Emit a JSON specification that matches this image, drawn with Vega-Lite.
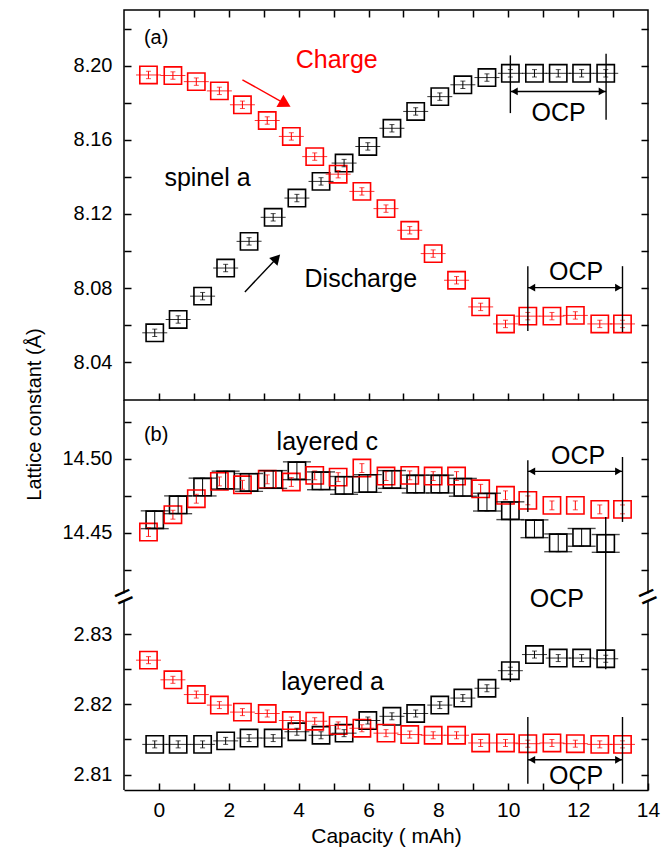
{
  "$schema": "https://vega.github.io/schema/vega-lite/v6.json",
  "autosize": {"type": "pad"},
  "padding": {"left": 23, "top": 8, "right": 5, "bottom": 5},
  "background": "white",
  "config": {
    "font": "Liberation Sans",
    "axis": {"domain": false, "grid": false, "tickColor": "#000", "tickWidth": 1.5, "tickSize": -7, "labelColor": "#000", "labelFont": "Liberation Sans", "labelFontSize": 20, "labelOverlap": false, "labelFlush": false, "titleColor": "#000", "titleFont": "Liberation Sans", "titleFontSize": 20, "titleFontWeight": "normal"},
    "view": {"stroke": null}
  },
  "datasets": {
    "spinel": [
      {"x": -0.12, "y": 8.0558, "err": 0.002, "series": "Discharge"},
      {"x": 0.55, "y": 8.063, "err": 0.002, "series": "Discharge"},
      {"x": 1.25, "y": 8.0756, "err": 0.002, "series": "Discharge"},
      {"x": 1.91, "y": 8.0908, "err": 0.002, "series": "Discharge"},
      {"x": 2.58, "y": 8.1052, "err": 0.002, "series": "Discharge"},
      {"x": 3.27, "y": 8.1182, "err": 0.002, "series": "Discharge"},
      {"x": 3.95, "y": 8.1286, "err": 0.002, "series": "Discharge"},
      {"x": 4.64, "y": 8.1376, "err": 0.002, "series": "Discharge"},
      {"x": 5.3, "y": 8.1475, "err": 0.002, "series": "Discharge"},
      {"x": 5.98, "y": 8.1565, "err": 0.002, "series": "Discharge"},
      {"x": 6.67, "y": 8.1663, "err": 0.002, "series": "Discharge"},
      {"x": 7.35, "y": 8.1754, "err": 0.002, "series": "Discharge"},
      {"x": 8.04, "y": 8.1834, "err": 0.002, "series": "Discharge"},
      {"x": 8.7, "y": 8.1898, "err": 0.002, "series": "Discharge"},
      {"x": 9.39, "y": 8.1937, "err": 0.002, "series": "Discharge"},
      {"x": 10.06, "y": 8.196, "err": 0.002, "series": "Discharge"},
      {"x": 10.75, "y": 8.196, "err": 0.002, "series": "Discharge"},
      {"x": 11.43, "y": 8.196, "err": 0.002, "series": "Discharge"},
      {"x": 12.1, "y": 8.196, "err": 0.002, "series": "Discharge"},
      {"x": 12.79, "y": 8.196, "err": 0.002, "series": "Discharge"},
      {"x": -0.3, "y": 8.1951, "err": 0.002, "series": "Charge"},
      {"x": 0.4, "y": 8.1948, "err": 0.002, "series": "Charge"},
      {"x": 1.07, "y": 8.1915, "err": 0.002, "series": "Charge"},
      {"x": 1.73, "y": 8.1865, "err": 0.002, "series": "Charge"},
      {"x": 2.39, "y": 8.179, "err": 0.002, "series": "Charge"},
      {"x": 3.1, "y": 8.1705, "err": 0.002, "series": "Charge"},
      {"x": 3.79, "y": 8.1619, "err": 0.002, "series": "Charge"},
      {"x": 4.46, "y": 8.151, "err": 0.002, "series": "Charge"},
      {"x": 5.13, "y": 8.1415, "err": 0.002, "series": "Charge"},
      {"x": 5.81, "y": 8.1322, "err": 0.002, "series": "Charge"},
      {"x": 6.5, "y": 8.1229, "err": 0.002, "series": "Charge"},
      {"x": 7.18, "y": 8.1112, "err": 0.002, "series": "Charge"},
      {"x": 7.85, "y": 8.0986, "err": 0.002, "series": "Charge"},
      {"x": 8.52, "y": 8.0842, "err": 0.002, "series": "Charge"},
      {"x": 9.21, "y": 8.0698, "err": 0.002, "series": "Charge"},
      {"x": 9.92, "y": 8.0606, "err": 0.002, "series": "Charge"},
      {"x": 10.56, "y": 8.0648, "err": 0.002, "series": "Charge"},
      {"x": 11.25, "y": 8.0648, "err": 0.002, "series": "Charge"},
      {"x": 11.92, "y": 8.0652, "err": 0.002, "series": "Charge"},
      {"x": 12.62, "y": 8.0606, "err": 0.002, "series": "Charge"},
      {"x": 13.27, "y": 8.0606, "err": 0.002, "series": "Charge"}
    ],
    "layered": [
      {"x": -0.12, "y": 14.4588, "err": 0.006, "lat": "c", "series": "Discharge"},
      {"x": 0.55, "y": 14.4689, "err": 0.006, "lat": "c", "series": "Discharge"},
      {"x": 1.25, "y": 14.4809, "err": 0.006, "lat": "c", "series": "Discharge"},
      {"x": 1.91, "y": 14.4856, "err": 0.006, "lat": "c", "series": "Discharge"},
      {"x": 2.58, "y": 14.484, "err": 0.006, "lat": "c", "series": "Discharge"},
      {"x": 3.27, "y": 14.486, "err": 0.006, "lat": "c", "series": "Discharge"},
      {"x": 3.95, "y": 14.4919, "err": 0.006, "lat": "c", "series": "Discharge"},
      {"x": 4.64, "y": 14.4851, "err": 0.006, "lat": "c", "series": "Discharge"},
      {"x": 5.3, "y": 14.482, "err": 0.006, "lat": "c", "series": "Discharge"},
      {"x": 5.98, "y": 14.4833, "err": 0.006, "lat": "c", "series": "Discharge"},
      {"x": 6.67, "y": 14.486, "err": 0.006, "lat": "c", "series": "Discharge"},
      {"x": 7.35, "y": 14.4829, "err": 0.006, "lat": "c", "series": "Discharge"},
      {"x": 8.04, "y": 14.4829, "err": 0.006, "lat": "c", "series": "Discharge"},
      {"x": 8.7, "y": 14.4807, "err": 0.006, "lat": "c", "series": "Discharge"},
      {"x": 9.39, "y": 14.4707, "err": 0.006, "lat": "c", "series": "Discharge"},
      {"x": 10.06, "y": 14.4649, "err": 0.006, "lat": "c", "series": "Discharge"},
      {"x": 10.75, "y": 14.4527, "err": 0.006, "lat": "c", "series": "Discharge"},
      {"x": 11.43, "y": 14.4432, "err": 0.006, "lat": "c", "series": "Discharge"},
      {"x": 12.1, "y": 14.4469, "err": 0.006, "lat": "c", "series": "Discharge"},
      {"x": 12.79, "y": 14.4428, "err": 0.006, "lat": "c", "series": "Discharge"},
      {"x": -0.12, "y": 2.8143, "err": 0.0005, "lat": "a", "series": "Discharge"},
      {"x": 0.55, "y": 2.8143, "err": 0.0005, "lat": "a", "series": "Discharge"},
      {"x": 1.25, "y": 2.8143, "err": 0.0005, "lat": "a", "series": "Discharge"},
      {"x": 1.91, "y": 2.8148, "err": 0.0005, "lat": "a", "series": "Discharge"},
      {"x": 2.58, "y": 2.8152, "err": 0.0005, "lat": "a", "series": "Discharge"},
      {"x": 3.27, "y": 2.8152, "err": 0.0005, "lat": "a", "series": "Discharge"},
      {"x": 3.95, "y": 2.8161, "err": 0.0005, "lat": "a", "series": "Discharge"},
      {"x": 4.64, "y": 2.8156, "err": 0.0005, "lat": "a", "series": "Discharge"},
      {"x": 5.3, "y": 2.8159, "err": 0.0005, "lat": "a", "series": "Discharge"},
      {"x": 5.98, "y": 2.8177, "err": 0.0005, "lat": "a", "series": "Discharge"},
      {"x": 6.67, "y": 2.8183, "err": 0.0005, "lat": "a", "series": "Discharge"},
      {"x": 7.35, "y": 2.8187, "err": 0.0005, "lat": "a", "series": "Discharge"},
      {"x": 8.04, "y": 2.8199, "err": 0.0005, "lat": "a", "series": "Discharge"},
      {"x": 8.7, "y": 2.8209, "err": 0.0005, "lat": "a", "series": "Discharge"},
      {"x": 9.39, "y": 2.8223, "err": 0.0005, "lat": "a", "series": "Discharge"},
      {"x": 10.06, "y": 2.8248, "err": 0.0005, "lat": "a", "series": "Discharge"},
      {"x": 10.75, "y": 2.8271, "err": 0.0005, "lat": "a", "series": "Discharge"},
      {"x": 11.43, "y": 2.8266, "err": 0.0005, "lat": "a", "series": "Discharge"},
      {"x": 12.1, "y": 2.8266, "err": 0.0005, "lat": "a", "series": "Discharge"},
      {"x": 12.79, "y": 2.8265, "err": 0.0005, "lat": "a", "series": "Discharge"},
      {"x": -0.3, "y": 14.4505, "err": 0.003, "lat": "c", "series": "Charge"},
      {"x": 0.4, "y": 14.4622, "err": 0.003, "lat": "c", "series": "Charge"},
      {"x": 1.07, "y": 14.473, "err": 0.003, "lat": "c", "series": "Charge"},
      {"x": 1.73, "y": 14.4847, "err": 0.003, "lat": "c", "series": "Charge"},
      {"x": 2.39, "y": 14.4824, "err": 0.003, "lat": "c", "series": "Charge"},
      {"x": 3.1, "y": 14.4861, "err": 0.003, "lat": "c", "series": "Charge"},
      {"x": 3.79, "y": 14.4843, "err": 0.003, "lat": "c", "series": "Charge"},
      {"x": 4.46, "y": 14.4888, "err": 0.003, "lat": "c", "series": "Charge"},
      {"x": 5.13, "y": 14.4876, "err": 0.003, "lat": "c", "series": "Charge"},
      {"x": 5.81, "y": 14.4937, "err": 0.003, "lat": "c", "series": "Charge"},
      {"x": 6.5, "y": 14.4883, "err": 0.003, "lat": "c", "series": "Charge"},
      {"x": 7.18, "y": 14.4888, "err": 0.003, "lat": "c", "series": "Charge"},
      {"x": 7.85, "y": 14.4883, "err": 0.003, "lat": "c", "series": "Charge"},
      {"x": 8.52, "y": 14.4883, "err": 0.003, "lat": "c", "series": "Charge"},
      {"x": 9.21, "y": 14.4797, "err": 0.003, "lat": "c", "series": "Charge"},
      {"x": 9.92, "y": 14.4753, "err": 0.003, "lat": "c", "series": "Charge"},
      {"x": 10.56, "y": 14.4719, "err": 0.003, "lat": "c", "series": "Charge"},
      {"x": 11.25, "y": 14.4685, "err": 0.003, "lat": "c", "series": "Charge"},
      {"x": 11.92, "y": 14.4685, "err": 0.003, "lat": "c", "series": "Charge"},
      {"x": 12.62, "y": 14.4658, "err": 0.003, "lat": "c", "series": "Charge"},
      {"x": 13.27, "y": 14.4658, "err": 0.003, "lat": "c", "series": "Charge"},
      {"x": -0.3, "y": 2.8263, "err": 0.0005, "lat": "a", "series": "Charge"},
      {"x": 0.4, "y": 2.8235, "err": 0.0005, "lat": "a", "series": "Charge"},
      {"x": 1.07, "y": 2.8214, "err": 0.0005, "lat": "a", "series": "Charge"},
      {"x": 1.73, "y": 2.8199, "err": 0.0005, "lat": "a", "series": "Charge"},
      {"x": 2.39, "y": 2.8189, "err": 0.0005, "lat": "a", "series": "Charge"},
      {"x": 3.1, "y": 2.8187, "err": 0.0005, "lat": "a", "series": "Charge"},
      {"x": 3.79, "y": 2.8177, "err": 0.0005, "lat": "a", "series": "Charge"},
      {"x": 4.46, "y": 2.8176, "err": 0.0005, "lat": "a", "series": "Charge"},
      {"x": 5.13, "y": 2.817, "err": 0.0005, "lat": "a", "series": "Charge"},
      {"x": 5.81, "y": 2.8166, "err": 0.0005, "lat": "a", "series": "Charge"},
      {"x": 6.5, "y": 2.8159, "err": 0.0005, "lat": "a", "series": "Charge"},
      {"x": 7.18, "y": 2.8157, "err": 0.0005, "lat": "a", "series": "Charge"},
      {"x": 7.85, "y": 2.8156, "err": 0.0005, "lat": "a", "series": "Charge"},
      {"x": 8.52, "y": 2.8156, "err": 0.0005, "lat": "a", "series": "Charge"},
      {"x": 9.21, "y": 2.8145, "err": 0.0005, "lat": "a", "series": "Charge"},
      {"x": 9.92, "y": 2.8145, "err": 0.0005, "lat": "a", "series": "Charge"},
      {"x": 10.56, "y": 2.8144, "err": 0.0005, "lat": "a", "series": "Charge"},
      {"x": 11.25, "y": 2.8145, "err": 0.0005, "lat": "a", "series": "Charge"},
      {"x": 11.92, "y": 2.8144, "err": 0.0005, "lat": "a", "series": "Charge"},
      {"x": 12.62, "y": 2.8143, "err": 0.0005, "lat": "a", "series": "Charge"},
      {"x": 13.27, "y": 2.8143, "err": 0.0005, "lat": "a", "series": "Charge"}
    ],
    "textA": [
      {"x": 5.09, "y": 8.2032, "label": "Charge", "series": "Charge"},
      {"x": 1.39, "y": 8.1394, "label": "spinel a", "series": "note"},
      {"x": 5.78, "y": 8.0847, "label": "Discharge", "series": "note"},
      {"x": 11.44, "y": 8.1748, "label": "OCP", "series": "note"},
      {"x": 11.94, "y": 8.0888, "label": "OCP", "series": "note"}
    ],
    "labelA": [{"x": -0.08, "y": 8.2149, "label": "(a)", "series": "note"}],
    "segA": [
      {"x": 2.39, "y": 8.1925, "x2": 3.616, "y2": 8.1795, "series": "Charge"},
      {"x": 2.46, "y": 8.0779, "x2": 3.372, "y2": 8.0961, "series": "note"},
      {"x": 10.06, "y": 8.2057, "x2": 10.06, "y2": 8.1745, "series": "note"},
      {"x": 12.8, "y": 8.2066, "x2": 12.8, "y2": 8.1709, "series": "note"},
      {"x": 10.06, "y": 8.1862, "x2": 12.8, "y2": 8.1862, "series": "note"},
      {"x": 10.56, "y": 8.0918, "x2": 10.56, "y2": 8.0568, "series": "note"},
      {"x": 13.27, "y": 8.0918, "x2": 13.27, "y2": 8.0562, "series": "note"},
      {"x": 10.56, "y": 8.0802, "x2": 13.27, "y2": 8.0802, "series": "note"}
    ],
    "headsA": [
      {"x": 3.616, "y": 8.1795, "kind": "red", "series": "Charge"},
      {"x": 3.372, "y": 8.0961, "kind": "black", "series": "note"},
      {"x": 10.175, "y": 8.1862, "kind": "left", "series": "note"},
      {"x": 12.685, "y": 8.1862, "kind": "right", "series": "note"},
      {"x": 10.675, "y": 8.0802, "kind": "left", "series": "note"},
      {"x": 13.155, "y": 8.0802, "kind": "right", "series": "note"}
    ],
    "textB": [
      {"x": 4.82, "y": 14.5115, "label": "layered c", "series": "note"},
      {"x": 12.0, "y": 14.5021, "label": "OCP", "series": "note"},
      {"x": 11.39, "y": 2.835, "label": "OCP", "series": "note"},
      {"x": 4.97, "y": 2.8232, "label": "layered a", "series": "note"},
      {"x": 11.94, "y": 2.8098, "label": "OCP", "series": "note"}
    ],
    "labelB": [{"x": -0.08, "y": 14.5158, "label": "(b)", "series": "note"}],
    "segB": [
      {"x": 10.56, "y": 14.499, "x2": 10.56, "y2": 14.464, "series": "note"},
      {"x": 13.27, "y": 14.5012, "x2": 13.27, "y2": 14.4573, "series": "note"},
      {"x": 10.56, "y": 14.4915, "x2": 13.27, "y2": 14.4915, "series": "note"},
      {"x": 10.06, "y": 14.4708, "x2": 10.06, "y2": 2.8232, "series": "note"},
      {"x": 12.79, "y": 14.4606, "x2": 12.79, "y2": 2.825, "series": "note"},
      {"x": 10.56, "y": 2.8182, "x2": 10.56, "y2": 2.8087, "series": "note"},
      {"x": 13.27, "y": 2.8182, "x2": 13.27, "y2": 2.8087, "series": "note"},
      {"x": 10.56, "y": 2.8121, "x2": 13.27, "y2": 2.8121, "series": "note"}
    ],
    "headsB": [
      {"x": 10.675, "y": 14.4915, "kind": "left", "series": "note"},
      {"x": 13.155, "y": 14.4915, "kind": "right", "series": "note"},
      {"x": 10.675, "y": 2.8121, "kind": "left", "series": "note"},
      {"x": 13.155, "y": 2.8121, "kind": "right", "series": "note"}
    ]
  },
  "spacing": 0,
  "bounds": "flush",
  "vconcat": [
    {
      "width": 524,
      "height": 390,
      "view": {"stroke": "#000", "strokeWidth": 1.5},
      "resolve": {"axis": {"x": "independent", "y": "independent"}},
      "layer": [
        {
          "data": {"name": "spinel"},
          "mark": {"type": "point", "shape": "square", "filled": false, "size": 300, "strokeWidth": 1.6, "opacity": 1},
          "encoding": {
            "x": {"field": "x", "type": "quantitative", "scale": {"domain": [-1, 14], "nice": false, "zero": false}, "axis": {"orient": "bottom", "values": [0,1,2,3,4,5,6,7,8,9,10,11,12,13], "labels": false, "title": null}},
            "y": {"field": "y", "type": "quantitative", "scale": {"domain": [8.0195, 8.2302], "nice": false, "zero": false}, "axis": {"orient": "left", "values": [8.04,8.06,8.08,8.1,8.12,8.14,8.16,8.18,8.2,8.22], "labelExpr": "round(datum.value*100) % 4 == 0 ? format(datum.value, '.2f') : ''", "labelPadding": 19, "title": "Lattice constant (Å)", "titleX": -84, "titleY": 404, "titleAngle": -90, "titleAlign": "center", "titleBaseline": "alphabetic"}},
            "color": {"field": "series", "type": "nominal", "scale": {"domain": ["Charge", "Discharge", "note"], "range": ["#ff0000", "#000000", "#000000"]}, "legend": null}
          }
        },
        {
          "data": {"name": "spinel"},
          "mark": {"type": "errorbar", "ticks": true, "thickness": 1},
          "encoding": {
            "x": {"field": "x", "type": "quantitative", "axis": null},
            "y": {"field": "y", "type": "quantitative", "axis": null},
            "yError": {"field": "err"},
            "color": {"field": "series", "type": "nominal", "legend": null}
          }
        },
        {
          "data": {"name": "spinel"},
          "mark": {"type": "tick", "orient": "horizontal", "size": 25, "thickness": 1, "opacity": 0.8},
          "encoding": {
            "x": {"field": "x", "type": "quantitative", "axis": null},
            "y": {"field": "y", "type": "quantitative", "axis": null},
            "color": {"field": "series", "type": "nominal", "legend": null}
          }
        },
        {
          "data": {"name": "textA"},
          "mark": {"type": "text", "fontSize": 25, "font": "Liberation Sans", "align": "center", "baseline": "middle"},
          "encoding": {
            "x": {"field": "x", "type": "quantitative", "axis": {"orient": "top", "values": [0,1,2,3,4,5,6,7,8,9,10,11,12,13], "labels": false, "title": null}},
            "y": {"field": "y", "type": "quantitative", "axis": {"orient": "right", "values": [8.04,8.06,8.08,8.1,8.12,8.14,8.16,8.18,8.2,8.22], "labels": false, "title": null}},
            "text": {"field": "label"},
            "color": {"field": "series", "type": "nominal", "legend": null}
          }
        },
        {
          "data": {"name": "labelA"},
          "mark": {"type": "text", "fontSize": 20, "font": "Liberation Sans", "align": "center", "baseline": "middle", "color": "#000"},
          "encoding": {
            "x": {"field": "x", "type": "quantitative", "axis": null},
            "y": {"field": "y", "type": "quantitative", "axis": null},
            "text": {"field": "label"}
          }
        },
        {
          "data": {"name": "segA"},
          "mark": {"type": "rule", "strokeWidth": 1.4},
          "encoding": {
            "x": {"field": "x", "type": "quantitative", "axis": null},
            "y": {"field": "y", "type": "quantitative", "axis": null},
            "x2": {"field": "x2"},
            "y2": {"field": "y2"},
            "color": {"field": "series", "type": "nominal", "legend": null}
          }
        },
        {
          "data": {"name": "headsA"},
          "transform": [{"filter": "datum.kind == 'red'"}],
          "mark": {"type": "point", "shape": "triangle-right", "filled": true, "size": 200, "angle": 29.5, "opacity": 1, "color": "#ff0000"},
          "encoding": {
            "x": {"field": "x", "type": "quantitative", "axis": null},
            "y": {"field": "y", "type": "quantitative", "axis": null}
          }
        },
        {
          "data": {"name": "headsA"},
          "transform": [{"filter": "datum.kind == 'black'"}],
          "mark": {"type": "point", "shape": "triangle-right", "filled": true, "size": 130, "angle": -46.7, "opacity": 1, "color": "#000"},
          "encoding": {
            "x": {"field": "x", "type": "quantitative", "axis": null},
            "y": {"field": "y", "type": "quantitative", "axis": null}
          }
        },
        {
          "data": {"name": "headsA"},
          "transform": [{"filter": "datum.kind == 'left'"}],
          "mark": {"type": "point", "shape": "triangle-left", "filled": true, "size": 60, "opacity": 1, "color": "#000"},
          "encoding": {
            "x": {"field": "x", "type": "quantitative", "axis": null},
            "y": {"field": "y", "type": "quantitative", "axis": null}
          }
        },
        {
          "data": {"name": "headsA"},
          "transform": [{"filter": "datum.kind == 'right'"}],
          "mark": {"type": "point", "shape": "triangle-right", "filled": true, "size": 60, "opacity": 1, "color": "#000"},
          "encoding": {
            "x": {"field": "x", "type": "quantitative", "axis": null},
            "y": {"field": "y", "type": "quantitative", "axis": null}
          }
        }
      ]
    },
    {
      "width": 524,
      "height": 390,
      "resolve": {"axis": {"x": "independent", "y": "independent"}},
      "layer": [
        {
          "data": {"name": "layered"},
          "mark": {"type": "point", "shape": "square", "filled": false, "size": 300, "strokeWidth": 1.6, "opacity": 1},
          "encoding": {
            "x": {"field": "x", "type": "quantitative", "scale": {"domain": [-1, 14], "nice": false, "zero": false}, "axis": {"orient": "bottom", "values": [0,1,2,3,4,5,6,7,8,9,10,11,12,13,14], "labelExpr": "datum.value % 2 == 0 ? datum.label : ''", "labelPadding": 16, "labelFontSize": 21, "domain": true, "domainColor": "#000", "domainWidth": 1.5, "title": "Capacity ( mAh)", "titleFontSize": 21, "titleX": 262, "titleY": 52, "titleAlign": "center", "titleBaseline": "alphabetic"}},
            "y": {"field": "y", "type": "quantitative", "scale": {"type": "linear", "domain": [2.8078, 2.8353, 14.4066, 14.5397], "range": [390, 197, 197, 0], "nice": false, "zero": false}, "axis": {"orient": "left", "values": [2.81,2.815,2.82,2.825,2.83,14.425,14.45,14.475,14.5,14.525], "labelExpr": "abs(datum.value*100 - round(datum.value*100)) < 0.01 ? (datum.value > 10 ? format(datum.value, '.2f') + '\u00a0\u00a0' : format(datum.value, '.2f')) : ''", "labelPadding": 19, "title": null}},
            "color": {"field": "series", "type": "nominal", "scale": {"domain": ["Charge", "Discharge", "note"], "range": ["#ff0000", "#000000", "#000000"]}, "legend": null}
          }
        },
        {
          "data": {"name": "layered"},
          "mark": {"type": "errorbar", "ticks": true, "thickness": 1},
          "encoding": {
            "x": {"field": "x", "type": "quantitative", "axis": null},
            "y": {"field": "y", "type": "quantitative", "axis": null},
            "yError": {"field": "err"},
            "color": {"field": "series", "type": "nominal", "legend": null}
          }
        },
        {
          "data": {"name": "layered"},
          "transform": [{"filter": "datum.lat == 'a'"}],
          "mark": {"type": "tick", "orient": "horizontal", "size": 25, "thickness": 1, "opacity": 0.8},
          "encoding": {
            "x": {"field": "x", "type": "quantitative", "axis": null},
            "y": {"field": "y", "type": "quantitative", "axis": null},
            "color": {"field": "series", "type": "nominal", "legend": null}
          }
        },
        {
          "data": {"name": "layered"},
          "transform": [{"filter": "datum.lat == 'c' && datum.series == 'Discharge'"}],
          "mark": {"type": "tick", "orient": "horizontal", "size": 28, "thickness": 1.4, "yOffset": -8.9, "color": "#000"},
          "encoding": {
            "x": {"field": "x", "type": "quantitative", "axis": null},
            "y": {"field": "y", "type": "quantitative", "axis": null}
          }
        },
        {
          "data": {"name": "layered"},
          "transform": [{"filter": "datum.lat == 'c' && datum.series == 'Discharge'"}],
          "mark": {"type": "tick", "orient": "horizontal", "size": 28, "thickness": 1.4, "yOffset": 8.9, "color": "#000"},
          "encoding": {
            "x": {"field": "x", "type": "quantitative", "axis": null},
            "y": {"field": "y", "type": "quantitative", "axis": null}
          }
        },
        {
          "data": {"name": "textB"},
          "mark": {"type": "text", "fontSize": 25, "font": "Liberation Sans", "align": "center", "baseline": "middle"},
          "encoding": {
            "x": {"field": "x", "type": "quantitative", "axis": null},
            "y": {"field": "y", "type": "quantitative", "axis": {"orient": "right", "values": [2.81,2.815,2.82,2.825,2.83,14.425,14.45,14.475,14.5,14.525], "labels": false, "title": null}},
            "text": {"field": "label"},
            "color": {"field": "series", "type": "nominal", "legend": null}
          }
        },
        {
          "data": {"name": "labelB"},
          "mark": {"type": "text", "fontSize": 20, "font": "Liberation Sans", "align": "center", "baseline": "middle", "color": "#000"},
          "encoding": {
            "x": {"field": "x", "type": "quantitative", "axis": null},
            "y": {"field": "y", "type": "quantitative", "axis": null},
            "text": {"field": "label"}
          }
        },
        {
          "data": {"name": "segB"},
          "mark": {"type": "rule", "strokeWidth": 1.4},
          "encoding": {
            "x": {"field": "x", "type": "quantitative", "axis": null},
            "y": {"field": "y", "type": "quantitative", "axis": null},
            "x2": {"field": "x2"},
            "y2": {"field": "y2"},
            "color": {"field": "series", "type": "nominal", "legend": null}
          }
        },
        {
          "data": {"name": "headsB"},
          "transform": [{"filter": "datum.kind == 'left'"}],
          "mark": {"type": "point", "shape": "triangle-left", "filled": true, "size": 60, "opacity": 1, "color": "#000"},
          "encoding": {
            "x": {"field": "x", "type": "quantitative", "axis": null},
            "y": {"field": "y", "type": "quantitative", "axis": null}
          }
        },
        {
          "data": {"name": "headsB"},
          "transform": [{"filter": "datum.kind == 'right'"}],
          "mark": {"type": "point", "shape": "triangle-right", "filled": true, "size": 60, "opacity": 1, "color": "#000"},
          "encoding": {
            "x": {"field": "x", "type": "quantitative", "axis": null},
            "y": {"field": "y", "type": "quantitative", "axis": null}
          }
        },
        {
          "data": {"values": [{}]},
          "mark": {"type": "rule", "color": "#000", "strokeWidth": 1.5},
          "encoding": {
            "x": {"datum": -1, "type": "quantitative", "axis": null},
            "y": {"datum": 2.8078, "type": "quantitative", "axis": null},
            "y2": {"datum": 2.8348}
          }
        },
        {
          "data": {"values": [{}]},
          "mark": {"type": "rule", "color": "#000", "strokeWidth": 1.5},
          "encoding": {
            "x": {"datum": -1, "type": "quantitative", "axis": null},
            "y": {"datum": 14.409, "type": "quantitative", "axis": null},
            "y2": {"datum": 14.5397}
          }
        },
        {
          "data": {"values": [{}]},
          "mark": {"type": "rule", "color": "#000", "strokeWidth": 1.5},
          "encoding": {
            "x": {"datum": 14, "type": "quantitative", "axis": null},
            "y": {"datum": 2.8078, "type": "quantitative", "axis": null},
            "y2": {"datum": 2.8348}
          }
        },
        {
          "data": {"values": [{}]},
          "mark": {"type": "rule", "color": "#000", "strokeWidth": 1.5},
          "encoding": {
            "x": {"datum": 14, "type": "quantitative", "axis": null},
            "y": {"datum": 14.409, "type": "quantitative", "axis": null},
            "y2": {"datum": 14.5397}
          }
        },
        {
          "data": {"values": [{}]},
          "mark": {"type": "text", "text": "=", "fontSize": 32, "angle": -24, "align": "center", "baseline": "middle", "color": "#000", "font": "Liberation Sans"},
          "encoding": {
            "x": {"datum": -1, "type": "quantitative", "axis": null},
            "y": {"datum": 2.8353, "type": "quantitative", "axis": null}
          }
        },
        {
          "data": {"values": [{}]},
          "mark": {"type": "text", "text": "=", "fontSize": 32, "angle": -24, "align": "center", "baseline": "middle", "color": "#000", "font": "Liberation Sans"},
          "encoding": {
            "x": {"datum": 14, "type": "quantitative", "axis": null},
            "y": {"datum": 2.8353, "type": "quantitative", "axis": null}
          }
        }
      ]
    }
  ]
}
